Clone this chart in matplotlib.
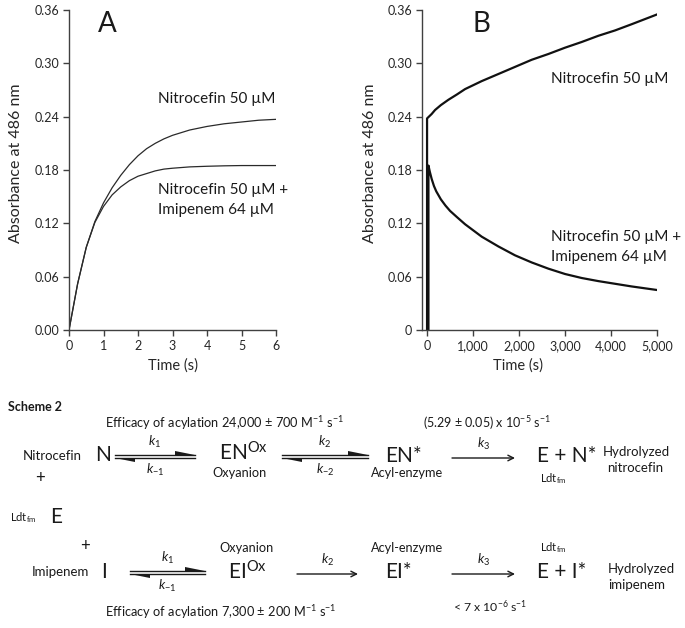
import matplotlib
matplotlib.use("Agg")
import matplotlib.pyplot as plt
from matplotlib.patches import Polygon

plt.rcParams['font.family'] = ['Lato', 'DejaVu Sans']
plt.rcParams['mathtext.fontset'] = 'custom'
plt.rcParams['mathtext.rm'] = 'Lato'
plt.rcParams['mathtext.it'] = 'Lato:italic'
plt.rcParams['mathtext.bf'] = 'Lato:bold'

# ---------------- data ----------------
tA = [0, 0.25, 0.5, 0.75, 1.0, 1.25, 1.5, 1.75, 2.0, 2.25, 2.5, 2.75, 3.0, 3.5, 4.0, 4.5, 5.0, 5.5, 6.0]
nitroA = [0, 0.052, 0.093, 0.122, 0.143, 0.160, 0.174, 0.186, 0.196, 0.204, 0.210, 0.215, 0.219,
          0.225, 0.229, 0.232, 0.234, 0.236, 0.237]
imiA = [0, 0.052, 0.093, 0.121, 0.139, 0.152, 0.161, 0.168, 0.173, 0.176, 0.179, 0.181, 0.182,
        0.1835, 0.1842, 0.1847, 0.185, 0.185, 0.185]

tB_nitro = [0, 0, 50, 100, 174, 300, 464, 650, 826, 1188, 1551, 1913, 2275, 2638, 3000, 3362, 3725,
            4087, 4449, 5000]
nitroB = [0, 0.238, 0.2405, 0.243, 0.2475, 0.253, 0.259, 0.265, 0.271, 0.280, 0.288, 0.296, 0.304,
          0.3105, 0.3176, 0.324, 0.331, 0.337, 0.344, 0.355]
tB_imi = [30, 30, 60, 100, 150, 200, 300, 400, 500, 650, 826, 1188, 1551, 1913, 2275, 2638, 3000,
          3362, 3725, 4087, 4449, 5000]
imiB = [0, 0.185, 0.178, 0.170, 0.162, 0.156, 0.147, 0.140, 0.134, 0.127, 0.119, 0.105, 0.094, 0.084,
        0.076, 0.069, 0.063, 0.0585, 0.055, 0.052, 0.049, 0.045]

yticks = [0, 0.06, 0.12, 0.18, 0.24, 0.30, 0.36]
yticklabelsA = ['0.00', '0.06', '0.12', '0.18', '0.24', '0.30', '0.36']
yticklabelsB = ['0', '0.06', '0.12', '0.18', '0.24', '0.30', '0.36']
xticksA = [0, 1, 2, 3, 4, 5, 6]
xticksB = [0, 1000, 2000, 3000, 4000, 5000]
xticklabelsB = ['0', '1,000', '2,000', '3,000', '4,000', '5,000']

W, H = 685, 628
fig = plt.figure(figsize=(W / 100, H / 100), dpi=100)

spine_c = '#404040'
txt_c = '#262626'

def style(ax):
    for s in ['top', 'right']:
        ax.spines[s].set_visible(False)
    for s in ['left', 'bottom']:
        ax.spines[s].set_color(spine_c)
        ax.spines[s].set_linewidth(1.0)
    ax.tick_params(direction='out', length=4, width=1.0, color=spine_c,
                   labelsize=9, labelcolor=txt_c, pad=3)
    ax.set_yticks(yticks)
    ax.set_ylim(0, 0.36)

axA = fig.add_axes([69 / W, 1 - 330 / H, 207 / W, 320 / H])
axA.plot(tA, nitroA, color='#2a2a2a', lw=0.9)
axA.plot(tA, imiA, color='#2a2a2a', lw=0.9)
style(axA)
axA.set_xlim(0, 6)
axA.set_xticks(xticksA)
axA.set_yticklabels(yticklabelsA)
axA.set_ylabel('Absorbance at 486 nm', fontsize=11.5, color=txt_c)
axA.yaxis.set_label_coords(-0.22, 0.52)
axA.set_xlabel('Time (s)', fontsize=10.5, color=txt_c)
axA.xaxis.set_label_coords(0.5, -0.09)

axB = fig.add_axes([422 / W, 1 - 330 / H, 235 / W, 320 / H])
axB.plot(tB_nitro, nitroB, color='#111111', lw=1.6)
axB.plot(tB_imi, imiB, color='#111111', lw=1.6)
style(axB)
axB.set_xlim(-110, 5000)
axB.set_xticks(xticksB)
axB.set_xticklabels(xticklabelsB)
axB.set_yticklabels(yticklabelsB)
axB.set_ylabel('Absorbance at 486 nm', fontsize=11.5, color=txt_c)
axB.yaxis.set_label_coords(-0.19, 0.52)
axB.set_xlabel('Time (s)', fontsize=10.5, color=txt_c)
axB.xaxis.set_label_coords(0.41, -0.09)

# overlay in pixel coordinates
ov = fig.add_axes([0, 0, 1, 1], zorder=5)
ov.set_xlim(0, W)
ov.set_ylim(H, 0)
ov.axis('off')
ov.patch.set_alpha(0)

def T(x, y, s, size=9, ha='left', va='center', **kw):
    ov.text(x, y, s, fontsize=size, ha=ha, va=va, color='#1a1a1a', **kw)

# panel letters
T(98, 24, 'A', 20)
T(473, 24, 'B', 20)

# curve labels
T(158, 99, 'Nitrocefin 50 µM', 11)
T(158, 190, 'Nitrocefin 50 µM +', 11)
T(158, 210, 'Imipenem 64 µM', 11)
T(551, 79, 'Nitrocefin 50 µM', 11)
T(551, 237, 'Nitrocefin 50 µM +', 11)
T(551, 257, 'Imipenem 64 µM', 11)

# ---------- Scheme ----------
T(8, 407, 'Scheme 2', 9, weight='bold')
T(105, 423, r'Efficacy of acylation 24,000 ± 700 M$^{-1}$ s$^{-1}$', 9.2)
T(423, 423, r'(5.29 ± 0.05) x 10$^{-5}$ s$^{-1}$', 9)

def equil(x1, x2, y, top, bot):
    yu, yl = y - 1.5, y + 1.5
    ov.plot([x1, x2], [yu, yu], color='#1a1a1a', lw=1)
    ov.plot([x1, x2], [yl, yl], color='#1a1a1a', lw=1)
    ov.add_patch(Polygon([[x2, yu], [x2 - 20, yu], [x2 - 20, yu - 4]], closed=True,
                         color='#1a1a1a', lw=0))
    ov.add_patch(Polygon([[x1, yl], [x1 + 20, yl], [x1 + 20, yl + 4]], closed=True,
                         color='#1a1a1a', lw=0))
    xc = (x1 + x2) / 2
    T(xc, y - 14, top, 9.5, ha='center')
    T(xc, y + 14, bot, 9.5, ha='center')

def fwd(x1, x2, y, top):
    ov.annotate('', xy=(x2, y), xytext=(x1, y),
                arrowprops=dict(arrowstyle='->', lw=1, color='#1a1a1a',
                                shrinkA=0, shrinkB=0, mutation_scale=10))
    T((x1 + x2) / 2, y - 14, top, 9.5, ha='center')

# row 1 (nitrocefin)
y1 = 456
T(23, y1, 'Nitrocefin', 9.5)
T(95, y1 - 1, 'N', 15)
equil(115, 195, y1, r'$\mathit{k}_1$', r'$\mathit{k}_{-1}$')
T(219, y1 - 3, r'EN$^{\mathrm{Ox}}$', 15)
T(240, 473, 'Oxyanion', 9.2, ha='center')
equil(282, 368, y1, r'$\mathit{k}_2$', r'$\mathit{k}_{-2}$')
T(385, y1, 'EN*', 15)
T(407, 473, 'Acyl-enzyme', 9.2, ha='center')
fwd(452, 515, y1 + 2, r'$\mathit{k}_3$')
T(537, y1, 'E + N*', 15)
T(540, 479, r'Ldt$_{\mathrm{fm}}$', 8)
T(603, 452, 'Hydrolyzed', 9.5)
T(607, 468, 'nitrocefin', 9.5)

T(40, 478, '+', 12, ha='center')
T(10, 518, r'Ldt$_{\mathrm{fm}}$', 8)
T(50, 517, 'E', 15)
T(85, 546, '+', 12, ha='center')

# row 2 (imipenem)
y2 = 572
T(32, y2, 'Imipenem', 9.5)
T(101, y2, 'I', 15)
equil(130, 205, y2, r'$\mathit{k}_1$', r'$\mathit{k}_{-1}$')
T(247, 548, 'Oxyanion', 9.2, ha='center')
T(228, y2, r'EI$^{\mathrm{Ox}}$', 15)
fwd(297, 358, y2 + 2, r'$\mathit{k}_2$')
T(407, 548, 'Acyl-enzyme', 9.2, ha='center')
T(385, y2, 'EI*', 15)
fwd(452, 515, y2 + 2, r'$\mathit{k}_3$')
T(540, 548, r'Ldt$_{\mathrm{fm}}$', 8)
T(537, y2, 'E + I*', 15)
T(608, 569, 'Hydrolyzed', 9.5)
T(608, 585, 'imipenem', 9.5)
T(453, 607, r'< 7 x 10$^{-6}$ s$^{-1}$', 8.8)
T(105, 612, r'Efficacy of acylation 7,300 ± 200 M$^{-1}$ s$^{-1}$', 9.2)

fig.savefig('out.png', dpi=100)
